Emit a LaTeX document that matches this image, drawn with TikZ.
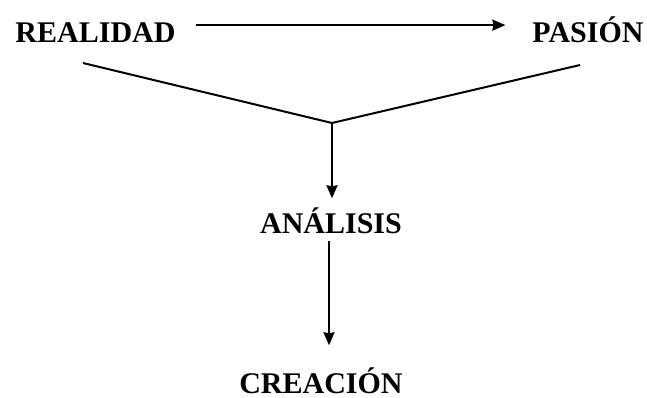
\documentclass[tikz,border=0pt]{standalone}
\usepackage{fontspec}
\setmainfont{Liberation Serif}
\usetikzlibrary{arrows.meta}
\begin{document}
\begin{tikzpicture}[x=0.5pt,y=-0.5pt,>={Stealth[length=6.5pt,width=5.5pt,inset=0.5pt]},line width=1pt,
  every node/.style={font=\bfseries\fontsize{15}{18}\selectfont,inner sep=0pt}]
\useasboundingbox (0,0) rectangle (647,397);
\node[anchor=base] (R) at (95.5,42) {REALIDAD};
\node[anchor=base] (P) at (588,42) {PASIÓN};
\node[anchor=base] (A) at (331,233) {ANÁLISIS};
\node[anchor=base] (C) at (321,393) {CREACIÓN};
\coordinate (L) at (83,63);
\coordinate (Q) at (580,65);
\coordinate (J) at (332,123);
\coordinate (R1) at ([xshift=9.5pt,yshift=3.5pt]R.east);
\coordinate (A1) at ([xshift=-1pt,yshift=-3.5pt]A.south);
\draw[->] (R1) -- ([xshift=-13pt]P.west |- R1);
\draw (L) -- (J) -- (Q);
\draw[->] (J) -- ([yshift=4pt]A.north -| J);
\draw[->] (A1) -- ([yshift=10.5pt]C.north -| A1);
\end{tikzpicture}
\end{document}
